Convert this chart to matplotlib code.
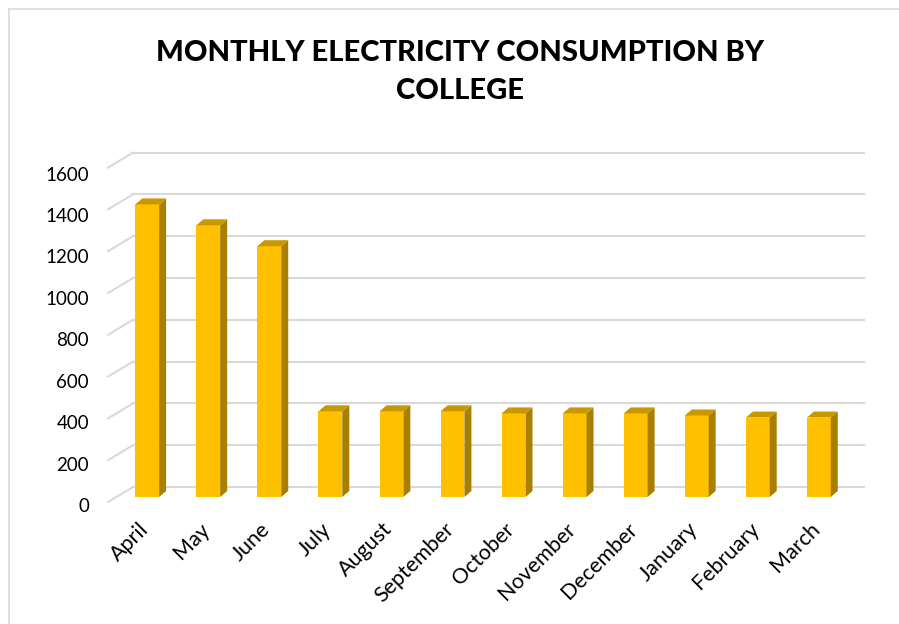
import numpy as np
import matplotlib
matplotlib.use('Agg')
import matplotlib.pyplot as plt
from matplotlib.patches import Polygon
from matplotlib.lines import Line2D

months = ['April', 'May', 'June', 'July', 'August', 'September', 'October',
          'November', 'December', 'January', 'February', 'March']
consumption = [1400, 1300, 1200, 410, 410, 410, 400, 400, 400, 390, 380, 380]
yticks = [0, 200, 400, 600, 800, 1000, 1200, 1400, 1600]

plt.rcParams['font.family'] = ['Lato', 'DejaVu Sans']

W, H = 899, 624
fig = plt.figure(figsize=(W / 100, H / 100), dpi=100)

# axes = front plane of the bars (pixel layout)
px0, pxstep = 147.2, 61.06          # x pixel of first bar centre, spacing
ypx0, ypx_per = 497.0, 41.8 / 200   # y pixel of value 0, px per unit
ax_left, ax_right = 100, 870
ax = fig.add_axes([ax_left / W, (H - ypx0) / H,
                   (ax_right - ax_left) / W, 1600 * ypx_per / H])
ax.set_xlim((ax_left - px0) / pxstep, (ax_right - px0) / pxstep)
ax.set_ylim(0, 1600)
ax.axis('off')

def dx(px):
    return px / pxstep

def dy(px):
    return px / ypx_per

grid_c = '#d9d9d9'
back_y = dy(10)
x_back_l, x_back_r = dx(133 - px0), dx(864 - px0)
x_front_l = dx(108 - px0)
for v in yticks:
    ax.add_line(Line2D([x_back_l, x_back_r], [v + back_y, v + back_y],
                       color=grid_c, lw=1.5, zorder=1, clip_on=False))
    ax.add_line(Line2D([x_front_l, x_back_l], [v - dy(5), v + back_y],
                       color=grid_c, lw=1.5, zorder=1, clip_on=False))
    # labels sit a little below the front end of each side-wall line
    ax.text(dx(89 - px0), v - dy(9.5 + 3 * v / 1600), str(v),
            ha='right', va='center', fontsize=13.5, color='#000000',
            clip_on=False)

# 3D-looking columns
x = np.arange(len(months))
w = 0.39
ddx, ddy = dx(7), dy(6)
ax.bar(x, consumption, width=w, color='#ffc000', zorder=3, clip_on=False)
for xi, v in zip(x, consumption):
    r = xi + w / 2
    l = xi - w / 2
    side = Polygon([(r, 0), (r + ddx, ddy), (r + ddx, v + ddy), (r, v)],
                   closed=True, facecolor='#a87f00', edgecolor='none',
                   zorder=3, clip_on=False)
    top = Polygon([(l, v), (r, v), (r + ddx, v + ddy), (l + ddx, v + ddy)],
                  closed=True, facecolor='#c99700', edgecolor='none',
                  zorder=3, clip_on=False)
    ax.add_patch(side)
    ax.add_patch(top)

for xi, m in zip(x, months):
    ax.text(xi - dx(9), -dy(22), m, rotation=45, rotation_mode='anchor',
            ha='right', va='top', fontsize=15.5, color='#000000',
            clip_on=False)

fig.text(460 / W, 1 - 72 / H, 'MONTHLY ELECTRICITY CONSUMPTION BY\nCOLLEGE',
         ha='center', va='center', fontsize=21, fontweight='black',
         linespacing=1.6, color='#000000')

# chart area border (only top and left visible in the crop)
fig.add_artist(Line2D([8.5 / W, 1.0], [1 - 8.5 / H] * 2, color=grid_c,
                      lw=1.2, transform=fig.transFigure))
fig.add_artist(Line2D([8.5 / W] * 2, [0, 1 - 8.5 / H], color=grid_c,
                      lw=1.2, transform=fig.transFigure))

fig.savefig('out.png', dpi=100)
